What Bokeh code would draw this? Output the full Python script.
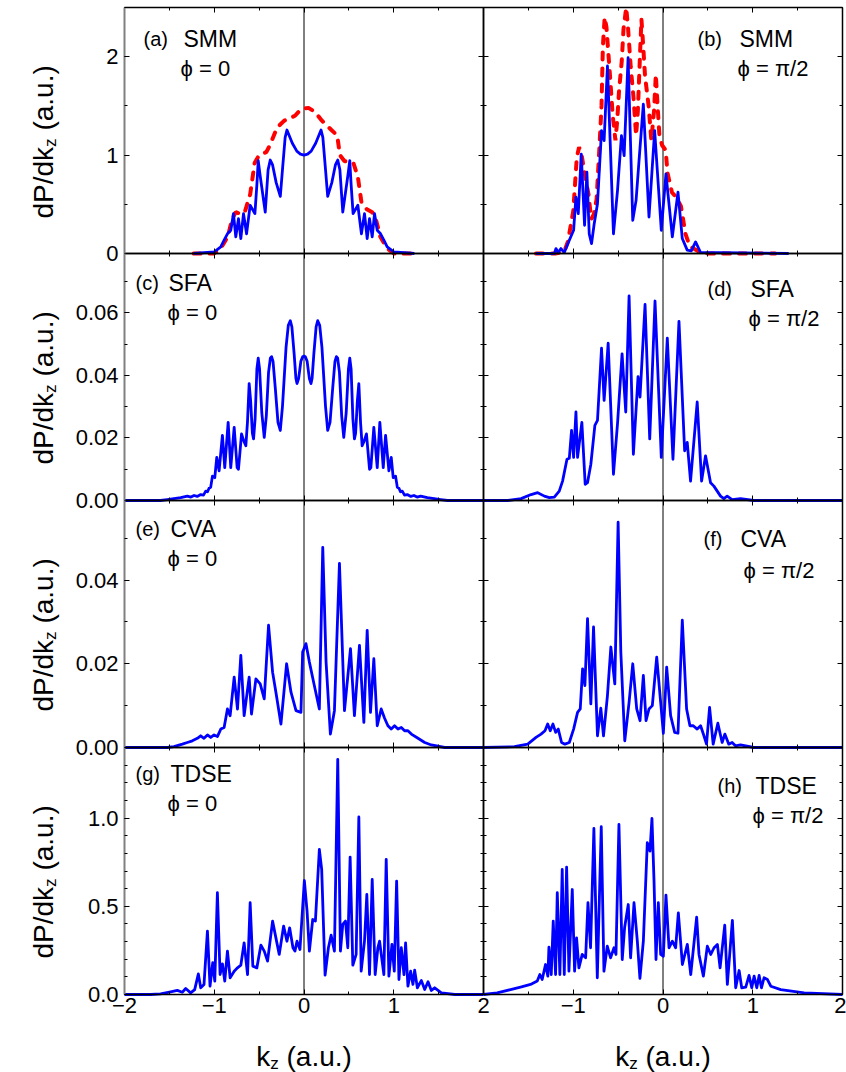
from math import pi
from bokeh.plotting import figure
from bokeh.models import (Range1d, LinearAxis, SingleIntervalTicker, Label,
                          NumeralTickFormatter, Grid)
from bokeh.embed import file_html
from bokeh.resources import INLINE

FONT = "Liberation Sans"
BLUE = "#0000ff"
RED = "#ff0000"

# ---------------- data ----------------
kz_start, kz_end = -2.0, 2.0
row_ymax = [2.5, 0.079, 0.059, 1.4]
row_major = [1.0, 0.02, 0.02, 0.5]
row_minor_n = [2, 2, 2, 5]
row_fmt = ["0", "0.00", "0.00", "0.0"]

panel_tags = ["(a)", "(b)", "(c)", "(d)", "(e)", "(f)", "(g)", "(h)"]
panel_methods = ["SMM", "SMM", "SFA", "SFA", "CVA", "CVA", "TDSE", "TDSE"]
panel_phase = ["ϕ = 0", "ϕ = π/2", "ϕ = 0", "ϕ = π/2",
               "ϕ = 0", "ϕ = π/2", "ϕ = 0", "ϕ = π/2"]

# (a) SMM, phi = 0
a_blue_x = [-1.23, -1.0, -0.927, -0.89, -0.853, -0.816, -0.786, -0.76, -0.73, -0.704,
            -0.674, -0.64, -0.6, -0.547, -0.525, -0.51, -0.49, -0.432, -0.40, -0.376,
            -0.35, -0.31, -0.264, -0.24, -0.21, -0.19, -0.165, -0.13, -0.08, -0.04,
            0.0,
            0.04, 0.08, 0.13, 0.165, 0.19, 0.21, 0.24, 0.264, 0.31, 0.35,
            0.376, 0.40, 0.432, 0.49, 0.51, 0.525, 0.547, 0.6, 0.64, 0.674,
            0.704, 0.73, 0.76, 0.786, 0.816, 0.853, 0.89, 0.927, 1.0, 1.23]
a_blue_y = [0.0, 0.017, 0.067, 0.135, 0.2, 0.236, 0.405, 0.17, 0.354, 0.152,
            0.405, 0.2, 0.49, 0.405, 0.7, 0.944, 0.8, 0.42, 0.85, 0.95,
            0.9, 0.72, 0.58, 0.85, 1.18, 1.255, 1.2, 1.12, 1.04, 1.01,
            1.0,
            1.01, 1.04, 1.12, 1.2, 1.255, 1.18, 0.85, 0.58, 0.72, 0.9,
            0.95, 0.85, 0.42, 0.8, 0.944, 0.7, 0.405, 0.49, 0.2, 0.405,
            0.152, 0.354, 0.17, 0.405, 0.236, 0.2, 0.135, 0.067, 0.017, 0.0]
a_red_x = [-1.23, -1.0, -0.93, -0.85, -0.8, -0.76, -0.7, -0.66, -0.6, -0.55,
           -0.5, -0.42, -0.38, -0.3, -0.22, -0.1, -0.03, 0.05, 0.12, 0.2,
           0.3, 0.37, 0.4, 0.45, 0.55, 0.6, 0.64, 0.7, 0.76, 0.8,
           0.85, 0.93, 1.0, 1.22]
a_red_y = [0.0, 0.0, 0.05, 0.17, 0.35, 0.42, 0.4, 0.42, 0.6, 0.92,
           1.0, 1.03, 1.1, 1.28, 1.35, 1.4, 1.47, 1.48, 1.44, 1.35,
           1.26, 1.2, 1.0, 0.94, 0.92, 0.78, 0.52, 0.45, 0.42, 0.35,
           0.17, 0.05, 0.0, 0.0]

# (b) SMM, phi = pi/2
b_blue_x = [-1.415, -1.21, -1.193, -1.167, -1.137, -1.1, -1.044, -0.996, -0.97, -0.944,
            -0.911, -0.874, -0.848, -0.822, -0.796, -0.767, -0.73, -0.685, -0.656, -0.619,
            -0.589, -0.552, -0.507, -0.463, -0.433, -0.389, -0.337, -0.3, -0.267, -0.219,
            -0.156, -0.093, -0.019, 0.033, 0.104, 0.167, 0.215, 0.27, 0.315, 0.363,
            0.419, 1.4]
b_blue_y = [0.0, 0.0, 0.05, 0.01, 0.05, 0.01, 0.135, 0.236, 0.573, 0.405,
            1.01, 0.287, 0.826, 0.2, 0.1, 0.3, 0.506, 1.248, 1.147, 1.906,
            1.147, 0.2, 0.64, 1.197, 0.995, 1.99, 0.337, 0.54, 0.944, 1.518,
            0.371, 1.248, 0.236, 0.81, 0.169, 0.624, 0.152, 0.034, 0.027, 0.118,
            0.01, 0.0]
b_red_x = [-1.415, -1.2, -1.1, -1.06, -1.0, -0.96, -0.935, -0.91, -0.88, -0.83,
           -0.8, -0.77, -0.74, -0.71, -0.685, -0.67, -0.65, -0.63, -0.59, -0.56,
           -0.53, -0.51, -0.49, -0.46, -0.44, -0.41, -0.39, -0.36, -0.33, -0.3,
           -0.28, -0.255, -0.24, -0.22, -0.2, -0.16, -0.13, -0.1, -0.08, -0.06,
           -0.04, -0.01, 0.03, 0.05, 0.1, 0.14, 0.2, 0.25, 0.3, 0.4,
           0.5, 1.25]
b_red_y = [0.0, 0.0, 0.02, 0.12, 0.43, 0.98, 1.08, 1.02, 0.85, 0.6,
           0.35, 0.4, 0.55, 1.05, 1.5, 2.1, 2.4, 2.3, 1.8, 1.4,
           1.15, 1.35, 1.65, 1.95, 2.28, 2.5, 2.3, 1.9, 1.6, 1.2,
           1.45, 2.05, 2.38, 2.1, 1.8, 1.5, 1.15, 1.45, 1.82, 1.5,
           1.2, 1.1, 1.05, 0.82, 0.62, 0.58, 0.48, 0.2, 0.07, 0.02,
           0.0, 0.0]

# (c) SFA, phi = 0
c_blue_x = [-2.0, -1.6, -1.523, -1.45, -1.374, -1.3, -1.26, -1.225, -1.19, -1.151,
            -1.12, -1.095, -1.075, -1.058, -1.04, -1.02, -0.994, -0.972, -0.946, -0.909,
            -0.883, -0.845, -0.816, -0.778, -0.745, -0.73, -0.715, -0.696, -0.67, -0.648,
            -0.63, -0.611, -0.595, -0.575, -0.562, -0.545, -0.525, -0.51, -0.495, -0.47,
            -0.443, -0.42, -0.395, -0.375, -0.361, -0.345, -0.32, -0.29, -0.264, -0.24,
            -0.2, -0.175, -0.153, -0.135, -0.11, -0.09, -0.078, -0.06, -0.035, -0.015,
            0.0,
            0.015, 0.035, 0.06, 0.078, 0.09, 0.11, 0.135, 0.153, 0.175, 0.2,
            0.24, 0.264, 0.29, 0.32, 0.345, 0.361, 0.375, 0.395, 0.42, 0.443,
            0.47, 0.495, 0.51, 0.525, 0.545, 0.562, 0.575, 0.595, 0.611, 0.63,
            0.648, 0.67, 0.696, 0.715, 0.73, 0.745, 0.778, 0.816, 0.845, 0.883,
            0.909, 0.946, 0.972, 0.994, 1.02, 1.04, 1.058, 1.075, 1.095, 1.12,
            1.151, 1.19, 1.225, 1.26, 1.3, 1.374, 1.45, 1.523, 1.6, 2.0]
c_blue_y = [0.0, 0.0, 0.0003, 0.0006, 0.0009, 0.0014, 0.0011, 0.0016, 0.0013, 0.0019,
            0.0017, 0.003, 0.0028, 0.0039, 0.0042, 0.0078, 0.0073, 0.0138, 0.0095, 0.0208,
            0.0105, 0.025, 0.0105, 0.0234, 0.0105, 0.01, 0.015, 0.0213, 0.019, 0.0175,
            0.025, 0.0374, 0.032, 0.0215, 0.0197, 0.026, 0.042, 0.0455, 0.042, 0.028,
            0.0202, 0.027, 0.041, 0.0455, 0.046, 0.0445, 0.036, 0.025, 0.0224, 0.03,
            0.049, 0.056, 0.0575, 0.0555, 0.047, 0.039, 0.0374, 0.039, 0.0445, 0.046,
            0.0462,
            0.046, 0.0445, 0.039, 0.0374, 0.039, 0.047, 0.0555, 0.0575, 0.056, 0.049,
            0.03, 0.0224, 0.025, 0.036, 0.0445, 0.046, 0.0455, 0.041, 0.027, 0.0202,
            0.028, 0.042, 0.0455, 0.042, 0.026, 0.0197, 0.0215, 0.032, 0.0374, 0.025,
            0.0175, 0.019, 0.0213, 0.015, 0.01, 0.0105, 0.0234, 0.0105, 0.025, 0.0105,
            0.0208, 0.0095, 0.0138, 0.0073, 0.0078, 0.0042, 0.0039, 0.0028, 0.003, 0.0017,
            0.0019, 0.0013, 0.0016, 0.0011, 0.0014, 0.0009, 0.0006, 0.0003, 0.0, 0.0]

# (d) SFA, phi = pi/2
d_blue_x = [-2.0, -1.73, -1.581, -1.47, -1.396, -1.322, -1.267, -1.211, -1.156, -1.119,
            -1.07, -1.044, -1.019, -0.996, -0.97, -0.952, -0.904, -0.867, -0.841, -0.804,
            -0.759, -0.73, -0.685, -0.656, -0.611, -0.552, -0.507, -0.456, -0.415, -0.378,
            -0.33, -0.278, -0.256, -0.2, -0.148, -0.089, -0.019, 0.048, 0.111, 0.178,
            0.241, 0.27, 0.307, 0.381, 0.43, 0.474, 0.53, 0.567, 0.604, 0.641,
            0.678, 0.715, 0.77, 0.863, 1.011, 2.0]
d_blue_y = [0.0, 0.0, 0.0006, 0.0019, 0.0025, 0.0014, 0.0009, 0.0011, 0.003, 0.0062,
            0.0132, 0.0135, 0.0224, 0.0138, 0.0283, 0.0138, 0.025, 0.0052, 0.0057, 0.0116,
            0.024, 0.0256, 0.0487, 0.032, 0.0503, 0.0084, 0.0245, 0.0469, 0.0283, 0.0654,
            0.0148, 0.0396, 0.0331, 0.0627, 0.0197, 0.0638, 0.0138, 0.0519, 0.0132, 0.0573,
            0.0159, 0.0186, 0.0062, 0.0315, 0.0062, 0.0143, 0.0057, 0.0046, 0.003, 0.0014,
            0.0006, 0.0014, 0.0003, 0.0006, 0.0, 0.0]

# (e) CVA, phi = 0
e_blue_x = [-2.0, -1.523, -1.449, -1.356, -1.3, -1.244, -1.188, -1.151, -1.114, -1.076,
            -1.039, -1.002, -0.965, -0.927, -0.89, -0.853, -0.823, -0.778, -0.741, -0.704,
            -0.667, -0.611, -0.585, -0.536, -0.488, -0.443, -0.395, -0.35, -0.313, -0.257,
            -0.194, -0.145, -0.089, -0.034, -0.015, 0.022, 0.06, 0.115, 0.171, 0.209,
            0.246, 0.294, 0.339, 0.395, 0.451, 0.518, 0.562, 0.618, 0.667, 0.704,
            0.741, 0.778, 0.816, 0.86, 0.898, 0.935, 0.972, 1.009, 1.047, 1.084,
            1.121, 1.158, 1.196, 1.27, 1.345, 1.419, 1.568, 2.0]
e_blue_y = [0.0, 0.0, 0.0002, 0.0008, 0.0012, 0.0016, 0.0022, 0.0028, 0.0022, 0.003,
            0.0024, 0.003, 0.0026, 0.0044, 0.0048, 0.0092, 0.0076, 0.0168, 0.0092, 0.022,
            0.0076, 0.0168, 0.008, 0.0164, 0.0152, 0.0116, 0.0292, 0.018, 0.0132, 0.0056,
            0.02, 0.0132, 0.0088, 0.0084, 0.0228, 0.0248, 0.0204, 0.0148, 0.0092, 0.0478,
            0.0204, 0.0032, 0.0088, 0.044, 0.0088, 0.0236, 0.0076, 0.0244, 0.006, 0.028,
            0.0084, 0.0212, 0.0052, 0.0092, 0.007, 0.0052, 0.0044, 0.0052, 0.0044, 0.0048,
            0.004, 0.004, 0.0032, 0.0022, 0.0012, 0.0006, 0.0, 0.0]

# (f) CVA, phi = pi/2
f_blue_x = [-2.0, -1.656, -1.507, -1.415, -1.359, -1.315, -1.285, -1.256, -1.226, -1.196,
            -1.167, -1.13, -1.093, -1.044, -0.996, -0.952, -0.922, -0.896, -0.87, -0.841,
            -0.804, -0.774, -0.73, -0.693, -0.663, -0.619, -0.581, -0.537, -0.5, -0.47,
            -0.426, -0.378, -0.337, -0.293, -0.256, -0.219, -0.189, -0.156, -0.119, -0.07,
            -0.026, 0.004, 0.041, 0.085, 0.13, 0.167, 0.215, 0.263, 0.3, 0.337,
            0.381, 0.419, 0.456, 0.485, 0.519, 0.559, 0.611, 0.659, 0.689, 0.733,
            0.77, 0.807, 0.863, 1.011, 2.0]
f_blue_y = [0.0, 0.0002, 0.0008, 0.0024, 0.0032, 0.004, 0.0056, 0.004, 0.0056, 0.0036,
            0.0044, 0.0012, 0.0008, 0.0012, 0.0044, 0.0084, 0.0092, 0.0188, 0.0148, 0.0308,
            0.0104, 0.0288, 0.0028, 0.0094, 0.0028, 0.0124, 0.024, 0.0152, 0.0538, 0.0228,
            0.0016, 0.0108, 0.02, 0.0092, 0.0064, 0.0172, 0.0064, 0.0092, 0.01, 0.0216,
            0.0108, 0.0034, 0.0192, 0.0076, 0.0036, 0.0034, 0.0304, 0.0092, 0.0052, 0.0052,
            0.0044, 0.0052, 0.0028, 0.0008, 0.0096, 0.0008, 0.0058, 0.0012, 0.0032, 0.0008,
            0.0012, 0.0004, 0.0006, 0.0, 0.0]

# (g) TDSE, phi = 0
g_blue_x = [-2.0, -1.709, -1.598, -1.486, -1.412, -1.356, -1.318, -1.263, -1.218, -1.177,
            -1.151, -1.114, -1.076, -1.047, -1.017, -0.994, -0.965, -0.935, -0.909, -0.883,
            -0.853, -0.823, -0.778, -0.741, -0.704, -0.667, -0.629, -0.6, -0.57, -0.525,
            -0.48, -0.443, -0.406, -0.35, -0.313, -0.276, -0.227, -0.19, -0.16, -0.123,
            -0.101, -0.078, -0.045, 0.004, 0.034, 0.06, 0.097, 0.127, 0.171, 0.197,
            0.235, 0.272, 0.302, 0.339, 0.376, 0.406, 0.432, 0.462, 0.488, 0.514,
            0.544, 0.581, 0.611, 0.637, 0.674, 0.7, 0.73, 0.76, 0.793, 0.823,
            0.842, 0.89, 0.916, 0.946, 0.98, 1.006, 1.032, 1.058, 1.084, 1.114,
            1.132, 1.158, 1.188, 1.214, 1.233, 1.263, 1.307, 1.345, 1.382, 1.419,
            1.456, 1.531, 1.68, 2.0]
g_blue_y = [0.0, 0.0, 0.004, 0.015, 0.023, 0.013, 0.034, 0.009, 0.028, 0.117,
            0.038, 0.057, 0.359, 0.047, 0.18, 0.076, 0.577, 0.113, 0.174, 0.076,
            0.246, 0.095, 0.132, 0.151, 0.166, 0.293, 0.113, 0.52, 0.161, 0.151,
            0.28, 0.246, 0.189, 0.416, 0.321, 0.227, 0.388, 0.302, 0.378, 0.265,
            0.246, 0.302, 0.255, 0.646, 0.473, 0.246, 0.425, 0.416, 0.822, 0.709,
            0.11, 0.265, 0.336, 0.246, 1.333, 0.246, 0.397, 0.416, 0.265, 0.779,
            0.166, 0.227, 1.006, 0.132, 0.302, 0.567, 0.113, 0.652, 0.113, 0.265,
            0.302, 0.113, 0.766, 0.104, 0.284, 0.132, 0.643, 0.085, 0.265, 0.113,
            0.293, 0.047, 0.132, 0.057, 0.138, 0.038, 0.079, 0.028, 0.072, 0.023,
            0.038, 0.009, 0.0, 0.0]

# (h) TDSE, phi = pi/2
h_blue_x = [-2.0, -1.848, -1.699, -1.587, -1.476, -1.401, -1.372, -1.346, -1.309, -1.283,
            -1.271, -1.245, -1.223, -1.197, -1.178, -1.149, -1.123, -1.1, -1.074, -1.048,
            -1.011, -0.985, -0.963, -0.937, -0.9, -0.862, -0.836, -0.807, -0.77, -0.732,
            -0.688, -0.658, -0.621, -0.584, -0.546, -0.524, -0.491, -0.454, -0.428, -0.387,
            -0.361, -0.323, -0.286, -0.257, -0.219, -0.175, -0.145, -0.123, -0.1, -0.078,
            -0.052, -0.026, 0.004, 0.033, 0.067, 0.104, 0.141, 0.171, 0.216, 0.271,
            0.309, 0.375, 0.401, 0.45, 0.494, 0.532, 0.569, 0.606, 0.636, 0.688,
            0.717, 0.773, 0.81, 0.848, 0.877, 0.922, 0.959, 0.989, 1.015, 1.045,
            1.071, 1.097, 1.126, 1.164, 1.201, 1.312, 1.572, 2.0]
h_blue_y = [0.0, 0.009, 0.028, 0.042, 0.057, 0.076, 0.113, 0.085, 0.17, 0.104,
            0.268, 0.113, 0.416, 0.113, 0.577, 0.113, 0.709, 0.113, 0.722, 0.132,
            0.595, 0.132, 0.321, 0.151, 0.227, 0.208, 0.52, 0.265, 0.941, 0.095,
            0.951, 0.132, 0.274, 0.208, 0.265, 0.227, 0.964, 0.198, 0.378, 0.51,
            0.208, 0.52, 0.302, 0.091, 0.302, 0.86, 0.813, 0.998, 0.643, 0.198,
            0.52, 0.227, 0.217, 0.563, 0.265, 0.302, 0.265, 0.463, 0.17, 0.284,
            0.113, 0.439, 0.227, 0.104, 0.274, 0.227, 0.265, 0.284, 0.151, 0.393,
            0.057, 0.42, 0.038, 0.136, 0.038, 0.042, 0.108, 0.038, 0.104, 0.038,
            0.108, 0.038, 0.095, 0.085, 0.047, 0.028, 0.009, 0.0]

blue_series = [(a_blue_x, a_blue_y), (b_blue_x, b_blue_y), (c_blue_x, c_blue_y),
               (d_blue_x, d_blue_y), (e_blue_x, e_blue_y), (f_blue_x, f_blue_y),
               (g_blue_x, g_blue_y), (h_blue_x, h_blue_y)]
red_series = {0: (a_red_x, a_red_y), 1: (b_red_x, b_red_y)}

# ---------------- layout (canvas pixels) ----------------
W, H = 846, 1072
COL_LEFT = [124, 483]
COL_W = 359
ROW_TOP = [7, 253, 500, 747]
ROW_H = [246, 247, 247, 247]

# panel texts relative to panel top-left: (tag x, name x, baseline, phi x, phi baseline)
text_pos = [(19, 59, 31, 56, 61), (214, 256, 31, 254, 61),
            (11, 44, 29, 43, 59), (224, 267, 35, 265, 65),
            (11, 46, 28, 43, 58), (220, 257, 38, 260, 70),
            (11, 46, 26, 43, 56), (234, 272, 38, 269, 68)]

p = figure(width=W, height=H, output_backend="svg", toolbar_location=None,
           x_range=Range1d(0, W), y_range=Range1d(H, 0),
           x_axis_location=None, y_axis_location=None,
           min_border=0, min_border_left=0, min_border_right=0,
           min_border_top=0, min_border_bottom=0)
p.outline_line_color = None
p.background_fill_color = "white"
p.border_fill_color = "white"
for g in list(p.center):
    if isinstance(g, Grid):
        g.visible = False

# per-column / per-row data ranges, placed so each panel sits in its frame
for c in range(2):
    k = COL_W / (kz_end - kz_start)
    p.extra_x_ranges[f"col{c}"] = Range1d(kz_start - COL_LEFT[c] / k,
                                          kz_end + (W - COL_LEFT[c] - COL_W) / k)
for r in range(4):
    k = ROW_H[r] / row_ymax[r]
    bottom_px = ROW_TOP[r] + ROW_H[r]
    p.extra_y_ranges[f"row{r}"] = Range1d(0 - (H - bottom_px) / k,
                                          row_ymax[r] + ROW_TOP[r] / k)


def add_text(x, y, text, size, angle=0.0):
    p.add_layout(Label(x=x, y=y, text=text, angle=angle, text_font=FONT,
                       text_font_size=f"{size}px", text_color="black",
                       text_align="left", text_baseline="alphabetic"))


def make_axis(ticker, show, fmt=None, gray=False, overrides=None, standoff=5):
    ax = LinearAxis(ticker=ticker)
    ax.major_tick_in = 5
    ax.major_tick_out = 0
    ax.minor_tick_in = 3
    ax.minor_tick_out = 0
    ax.axis_line_color = "#808080" if gray else "black"
    ax.axis_line_width = 2 if gray else 1.5
    ax.major_tick_line_color = "black"
    ax.minor_tick_line_color = "black"
    ax.major_tick_line_width = 1
    ax.minor_tick_line_width = 1
    if fmt is not None:
        ax.formatter = fmt
    if show:
        ax.major_label_text_font = FONT
        ax.major_label_text_font_size = "22px"
        ax.major_label_text_color = "black"
        ax.major_label_standoff = standoff
        if overrides:
            ax.major_label_overrides = overrides
    else:
        ax.major_label_text_color = None
        ax.major_label_standoff = 0
    return ax


for r in range(4):
    for c in range(2):
        i = 2 * r + c
        xn, yn = f"col{c}", f"row{r}"
        ymax = row_ymax[r]
        xt = SingleIntervalTicker(interval=1, num_minor_ticks=2)
        yt = SingleIntervalTicker(interval=row_major[r], num_minor_ticks=row_minor_n[r])

        below = make_axis(xt, r == 3, overrides=None if c == 0 else {-2: ""}, standoff=3)
        above = make_axis(xt, False)
        left = make_axis(yt, c == 0, NumeralTickFormatter(format=row_fmt[r]),
                         gray=(c == 0), standoff=6)
        right = make_axis(yt, False)
        for ax, loc in ((below, 0), (above, ymax)):
            ax.x_range_name = xn
            ax.y_range_name = yn
            ax.fixed_location = loc
            ax.bounds = (kz_start, kz_end)
        for ax, loc in ((left, kz_start), (right, kz_end)):
            ax.x_range_name = xn
            ax.y_range_name = yn
            ax.fixed_location = loc
            ax.bounds = (0, ymax)
        p.add_layout(below, "below")
        p.add_layout(above, "above")
        p.add_layout(left, "left")
        p.add_layout(right, "right")

        # vertical reference line at k_z = 0
        p.segment(x0=[0], y0=[0], x1=[0], y1=[ymax], x_range_name=xn, y_range_name=yn,
                  line_color="black", line_width=1)

        if i in red_series:
            rx, ry = red_series[i]
            p.line(rx, ry, x_range_name=xn, y_range_name=yn, line_color=RED,
                   line_width=4, line_dash="7 9", line_cap="round")
        bx, by = blue_series[i]
        p.line(bx, by, x_range_name=xn, y_range_name=yn, line_color=BLUE,
               line_width=2.8, line_join="round")

        tx, nx, base, phx, phb = text_pos[i]
        x0, y0 = COL_LEFT[c], ROW_TOP[r]
        add_text(x0 + tx, y0 + base, panel_tags[i], 20)
        add_text(x0 + nx, y0 + base, panel_methods[i], 23)
        add_text(x0 + phx, y0 + phb, panel_phase[i], 22)

# y-axis titles: dP/dk_z (a.u.)
for r in range(4):
    yb = ROW_TOP[r] + 211
    add_text(43, yb, "dP/dk", 28, angle=pi / 2)
    add_text(50, yb - 71.6, "z", 17, angle=pi / 2)
    add_text(43, yb - 71.6 - 8.5 - 7.8, "(a.u.)", 28, angle=pi / 2)

# x-axis titles: k_z (a.u.)
for c in range(2):
    xc = COL_LEFT[c] + COL_W / 2
    add_text(xc - 47.75, 1056, "k", 28)
    add_text(xc - 33.75, 1062.5, "z", 17)
    add_text(xc - 47.75 + 30.3, 1056, "(a.u.)", 28)

open("out.html", "w").write(file_html(p, INLINE))
